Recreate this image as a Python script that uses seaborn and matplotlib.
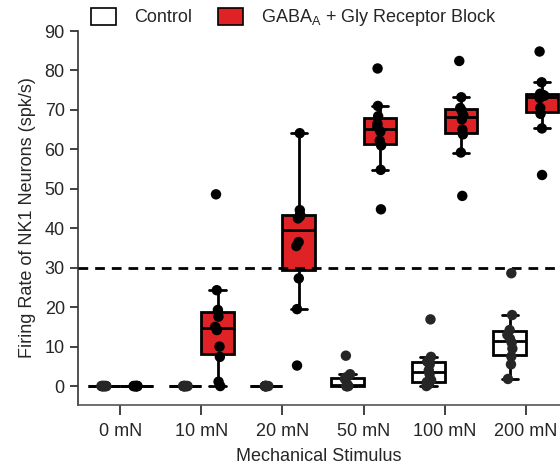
import numpy as np
import pandas as pd
import matplotlib
matplotlib.use("Agg")
import matplotlib.pyplot as plt
from matplotlib.patches import Patch
import seaborn as sns

stimuli = ["0 mN", "10 mN", "20 mN", "50 mN", "100 mN", "200 mN"]
groups = ["Control", "Block"]

control_0 = [0, 0, 0, 0, 0, 0, 0, 0, 0, 0]
control_10 = [0, 0, 0, 0, 0, 0, 0, 0, 0, 0]
control_20 = [0, 0, 0, 0, 0, 0, 0, 0, 0, 0]
control_50 = [0, 0, 0, 0, 0, 0.5, 1.8, 2.2, 3.0, 7.7]
control_100 = [0, 0.5, 1.0, 1.5, 3.0, 4.0, 5.5, 6.2, 7.4, 16.9]
control_200 = [1.8, 5.5, 7.5, 9.5, 11.0, 12.0, 13.0, 14.2, 18.0, 28.6]

block_0 = [0, 0, 0, 0, 0, 0, 0, 0, 0, 0]
block_10 = [0, 1.1, 7.4, 10.0, 14.2, 15.0, 17.6, 19.3, 24.3, 48.6]
block_20 = [5.2, 19.5, 27.3, 35.5, 36.5, 42.5, 43.0, 43.5, 44.6, 64.1]
block_50 = [44.8, 54.8, 61.0, 62.2, 64.5, 65.7, 66.5, 68.4, 71.0, 80.5]
block_100 = [48.2, 59.2, 63.8, 65.0, 67.6, 68.6, 69.8, 70.5, 73.2, 82.4]
block_200 = [53.5, 65.3, 69.0, 70.5, 73.0, 73.6, 73.8, 74.1, 77.0, 84.8]

threshold = 30

control_values = [control_0, control_10, control_20, control_50, control_100, control_200]
block_values = [block_0, block_10, block_20, block_50, block_100, block_200]

rows = []
for s, cv, bv in zip(stimuli, control_values, block_values):
    for v in cv:
        rows.append((s, "Control", v))
    for v in bv:
        rows.append((s, "Block", v))
df = pd.DataFrame(rows, columns=["stim", "group", "rate"])

sns.set_style("ticks")
plt.rcParams["font.family"] = ["Liberation Sans", "DejaVu Sans"]
plt.rcParams["font.size"] = 13

RED = "#DE2226"

fig = plt.figure(figsize=(5.6, 4.69), dpi=100)
ax = fig.add_axes([78 / 560, 1 - 405 / 469, 1 - 78 / 560, (405 - 31) / 469])

sns.boxplot(data=df, x="stim", y="rate", hue="group", order=stimuli, hue_order=groups,
            palette={"Control": "white", "Block": RED}, saturation=1, width=0.8, dodge=True,
            showfliers=False, linewidth=2.0, linecolor="black", ax=ax, legend=False,
            whis=1.5)
np.random.seed(3)
sns.stripplot(data=df, x="stim", y="rate", hue="group", order=stimuli, hue_order=groups,
              palette={"Control": "#262626", "Block": "black"}, dodge=True, jitter=0.07,
              size=7.5, ax=ax, legend=False, zorder=5)

ax.axhline(threshold, color="black", lw=2.0, ls=(0, (3.5, 2.5)), zorder=4)

ax.set_xlim(-0.52, 5.42)
ax.set_ylim(-4.8, 90)
ax.set_yticks(np.arange(0, 91, 10))
ax.set_xlabel("Mechanical Stimulus", fontsize=13, labelpad=6)
ax.set_ylabel("Firing Rate of NK1 Neurons (spk/s)", fontsize=13, labelpad=6)
ax.tick_params(axis="both", direction="out", length=6, width=1.3, labelsize=13, color="#333333")
ax.tick_params(axis="x", length=7, pad=6)
for side in ["top", "right"]:
    ax.spines[side].set_visible(False)
ax.spines["left"].set_color("#333333")
ax.spines["bottom"].set_color("#555555")
ax.spines["left"].set_linewidth(1.2)
ax.spines["bottom"].set_linewidth(1.2)

handles = [Patch(facecolor="white", edgecolor="black", lw=1.2),
           Patch(facecolor=RED, edgecolor="black", lw=1.2)]
labels = ["Control", r"GABA$_\mathregular{A}$ + Gly Receptor Block"]
fig.legend(handles, labels, loc="center", bbox_to_anchor=(0.525, 0.962), ncol=2,
           frameon=False, fontsize=13, handlelength=1.4, handleheight=1.1,
           columnspacing=1.4, handletextpad=1.0)

fig.savefig("out.png", dpi=100)
